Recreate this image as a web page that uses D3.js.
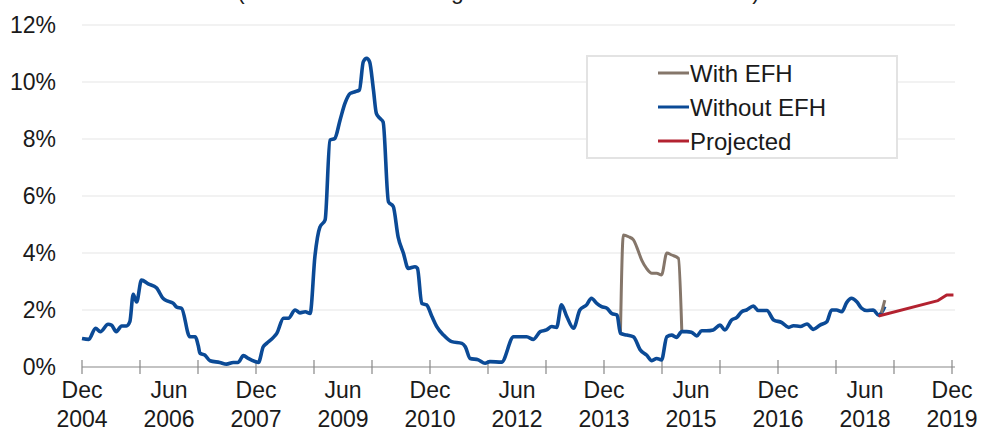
<!DOCTYPE html>
<html>
<head>
<meta charset="utf-8">
<script src="https://cdn.jsdelivr.net/npm/d3@7"></script>
<style>
  body { margin: 0; background: #fff; overflow: hidden; }
  svg { display: block; }
  text { font-family: "Liberation Sans", Arial, sans-serif; fill: #1a1a1a; }
</style>
</head>
<body>
<div id="chart"></div>
<script>
// months counted from Dec 2004, values in percent
var withoutMonths = [0,1.4,2.8,3.8,5.4,6.1,7.1,8.2,9.2,9.9,10.6,11.3,12.3,13.7,15.4,16.8,17.9,18.9,19.6,20.6,
  22.3,23.4,24.1,24.4,25.4,26.5,28.5,29.9,31.3,32.3,33.4,34.4,35.8,36.5,37.5,38.2,39.6,40.3,41.7,42.7,
  44.1,45.1,46.2,47.2,48.2,49.2,50.3,51.3,52.3,53.4,54.4,55.5,56.5,57.4,58.2,58.9,59.5,60.3,60.9,61.6,
  62.3,63.4,64.4,65.4,66.5,67.5,68.9,69.4,70.3,71.3,72.4,73.4,74.8,76.5,78.6,79.3,80.3,82.0,83.4,84.4,
  86.8,89.3,90.6,92.0,93.4,94.8,96.1,97.2,98.2,99.2,100.3,101.7,103.0,104.4,105.4,106.5,107.5,108.6,109.6,110.7,
  111.4,112.7,114.1,115.5,116.8,117.9,118.9,119.9,121.0,122.0,123.0,124.1,125.1,126.1,127.2,128.2,129.2,130.6,132.0,133.0,
  134.4,135.5,136.5,137.5,138.9,139.9,141.7,143.1,144.8,146.2,147.2,148.6,150.0,151.3,152.7,154.1,155.1,156.1,157.2,158.2,
  159.2,160.3,161.3,162.3,163.7,164.8,165.4,166.1]
var withoutValues = [1.0,0.97,1.36,1.24,1.5,1.47,1.24,1.44,1.44,1.59,2.55,2.28,3.05,2.92,2.78,2.4,2.3,2.23,2.1,2.06,
  1.06,1.06,0.71,0.48,0.42,0.22,0.16,0.1,0.16,0.16,0.4,0.3,0.19,0.16,0.71,0.83,1.04,1.18,1.71,1.71,
  2.0,1.9,1.94,1.88,3.9,4.9,5.16,7.96,8.02,8.67,9.25,9.6,9.66,9.72,10.71,10.83,10.71,9.72,8.9,8.73,
  8.6,5.8,5.63,4.57,3.99,3.46,3.52,3.46,2.23,2.18,1.77,1.42,1.12,0.89,0.83,0.71,0.3,0.25,0.13,0.19,
  0.17,1.06,1.06,1.06,0.97,1.24,1.3,1.42,1.39,2.18,1.77,1.36,2.0,2.18,2.41,2.23,2.12,2.06,1.88,1.82,
  1.18,1.12,1.06,0.6,0.42,0.22,0.3,0.25,1.06,1.12,1.04,1.24,1.24,1.22,1.09,1.27,1.27,1.3,1.47,1.3,
  1.65,1.74,1.94,2.0,2.14,1.98,1.98,1.65,1.56,1.39,1.45,1.42,1.51,1.32,1.47,1.59,2.0,2.0,1.94,2.26,
  2.41,2.29,2.06,1.98,2.0,1.82,1.9,2.12]

// with EFH differs only where shown; NaN splits the two pieces
var withMonths = [111.4,112.0,113.1,114.1,114.8,115.8,116.8,117.9,118.9,119.9,121.0,122.0,123.4,124.1, NaN, 165.4,166.1]
var withValues = [1.18,4.63,4.57,4.46,4.2,3.75,3.46,3.29,3.29,3.23,4.0,3.93,3.81,1.24, NaN, 1.9,2.35]

var projMonths = [164.8,177.1,178.9,180.3]
var projValues = [1.79,2.33,2.53,2.53]

var yTicks = [0,2,4,6,8,10,12]
var xTickMonths = [0,12,24,36,48,60,72,84,96,108,120,132,144,156,168,180]
var xLabelMonths = [0,18,36,54,72,90,108,126,144,162,180]
var xLabels = [["Dec","2004"],["Jun","2006"],["Dec","2007"],["Jun","2009"],["Dec","2010"],["Jun","2012"],
  ["Dec","2013"],["Jun","2015"],["Dec","2016"],["Jun","2018"],["Dec","2019"]]

var legendNames = ["With EFH","Without EFH","Projected"]
var colors = {with: "#85766a", without: "#0b4a96", proj: "#b32230"}

var W = 981, H = 430

var svg = d3.select("#chart").append("svg")
  .attr("width", W)
  .attr("height", H)

var x = d3.scaleLinear().domain([0,180]).range([82,952])
var y = d3.scaleLinear().domain([0,12]).range([367,25])

// title, cut off above the picture: only descenders show
svg.append("text")
  .attr("x", 237).attr("y", -1.5)
  .attr("textLength", 523).attr("lengthAdjust", "spacing")
  .style("font-size", "23px")
  .text("(12-Month Trailing Default Rate - Amount)")

// gridlines
svg.selectAll(".grid").data(yTicks.filter(function(d){ return d > 0 }))
  .enter().append("line")
  .attr("x1", 82).attr("x2", 955)
  .attr("y1", function(d){ return y(d) }).attr("y2", function(d){ return y(d) })
  .attr("stroke", "#e6e6e6").attr("stroke-width", 1.2)

// y labels
svg.selectAll(".ylab").data(yTicks)
  .enter().append("text")
  .attr("x", 56)
  .attr("y", function(d){ return y(d) })
  .attr("dy", "0.36em")
  .attr("text-anchor", "end")
  .style("font-size", "23px")
  .text(function(d){ return d + "%" })

// x axis line and ticks
svg.append("line")
  .attr("x1", 82).attr("x2", 955).attr("y1", 367).attr("y2", 367)
  .attr("stroke", "#888").attr("stroke-width", 1.2)
svg.selectAll(".xtick").data(xTickMonths)
  .enter().append("line")
  .attr("x1", function(d){ return x(d) }).attr("x2", function(d){ return x(d) })
  .attr("y1", 360).attr("y2", 374)
  .attr("stroke", "#888").attr("stroke-width", 1.2)

var xl = svg.selectAll(".xlab").data(xLabelMonths)
  .enter().append("text")
  .attr("text-anchor", "middle")
  .style("font-size", "23px")
xl.append("tspan")
  .attr("x", function(d){ return x(d) }).attr("y", 398)
  .text(function(d, i){ return xLabels[i][0] })
xl.append("tspan")
  .attr("x", function(d){ return x(d) }).attr("y", 427)
  .text(function(d, i){ return xLabels[i][1] })

// legend box
svg.append("rect")
  .attr("x", 587).attr("y", 56).attr("width", 310).attr("height", 102)
  .attr("fill", "#fff").attr("stroke", "#e3e3e3").attr("stroke-width", 2)

var smooth = d3.line()
  .defined(function(d){ return !isNaN(d[1]) })
  .x(function(d){ return x(d[0]) })
  .y(function(d){ return y(d[1]) })
  .curve(d3.curveMonotoneX)
var straight = d3.line()
  .x(function(d){ return x(d[0]) })
  .y(function(d){ return y(d[1]) })

function pairs(ms, vs){ return ms.map(function(m, i){ return [m, vs[i]] }) }

var withData = pairs(withMonths, withValues)
// first piece of "with EFH" goes under the blue line
svg.append("path")
  .datum(withData.slice(0, 14))
  .attr("d", smooth)
  .attr("fill", "none").attr("stroke", colors.with).attr("stroke-width", 3)
  .attr("stroke-linejoin", "round")

svg.append("path")
  .datum(pairs(withoutMonths, withoutValues))
  .attr("d", smooth)
  .attr("fill", "none").attr("stroke", colors.without).attr("stroke-width", 3.6)
  .attr("stroke-linejoin", "round")

svg.append("path")
  .datum(withData.slice(15))
  .attr("d", smooth)
  .attr("fill", "none").attr("stroke", colors.with).attr("stroke-width", 3)

svg.append("path")
  .datum(pairs(projMonths, projValues))
  .attr("d", straight)
  .attr("fill", "none").attr("stroke", colors.proj).attr("stroke-width", 3)
  .attr("stroke-linejoin", "round")

// legend entries
var legColors = [colors.with, colors.without, colors.proj]
var lg = svg.selectAll(".leg").data(legendNames)
  .enter().append("g")
  .attr("transform", function(d, i){ return "translate(658," + (73 + i * 34) + ")" })
lg.append("line")
  .attr("x1", 0).attr("x2", 31)
  .attr("stroke", function(d, i){ return legColors[i] }).attr("stroke-width", 3)
lg.append("text")
  .attr("x", 32).attr("dy", "0.36em")
  .style("font-size", "24px")
  .text(function(d){ return d })
</script>
</body>
</html>
